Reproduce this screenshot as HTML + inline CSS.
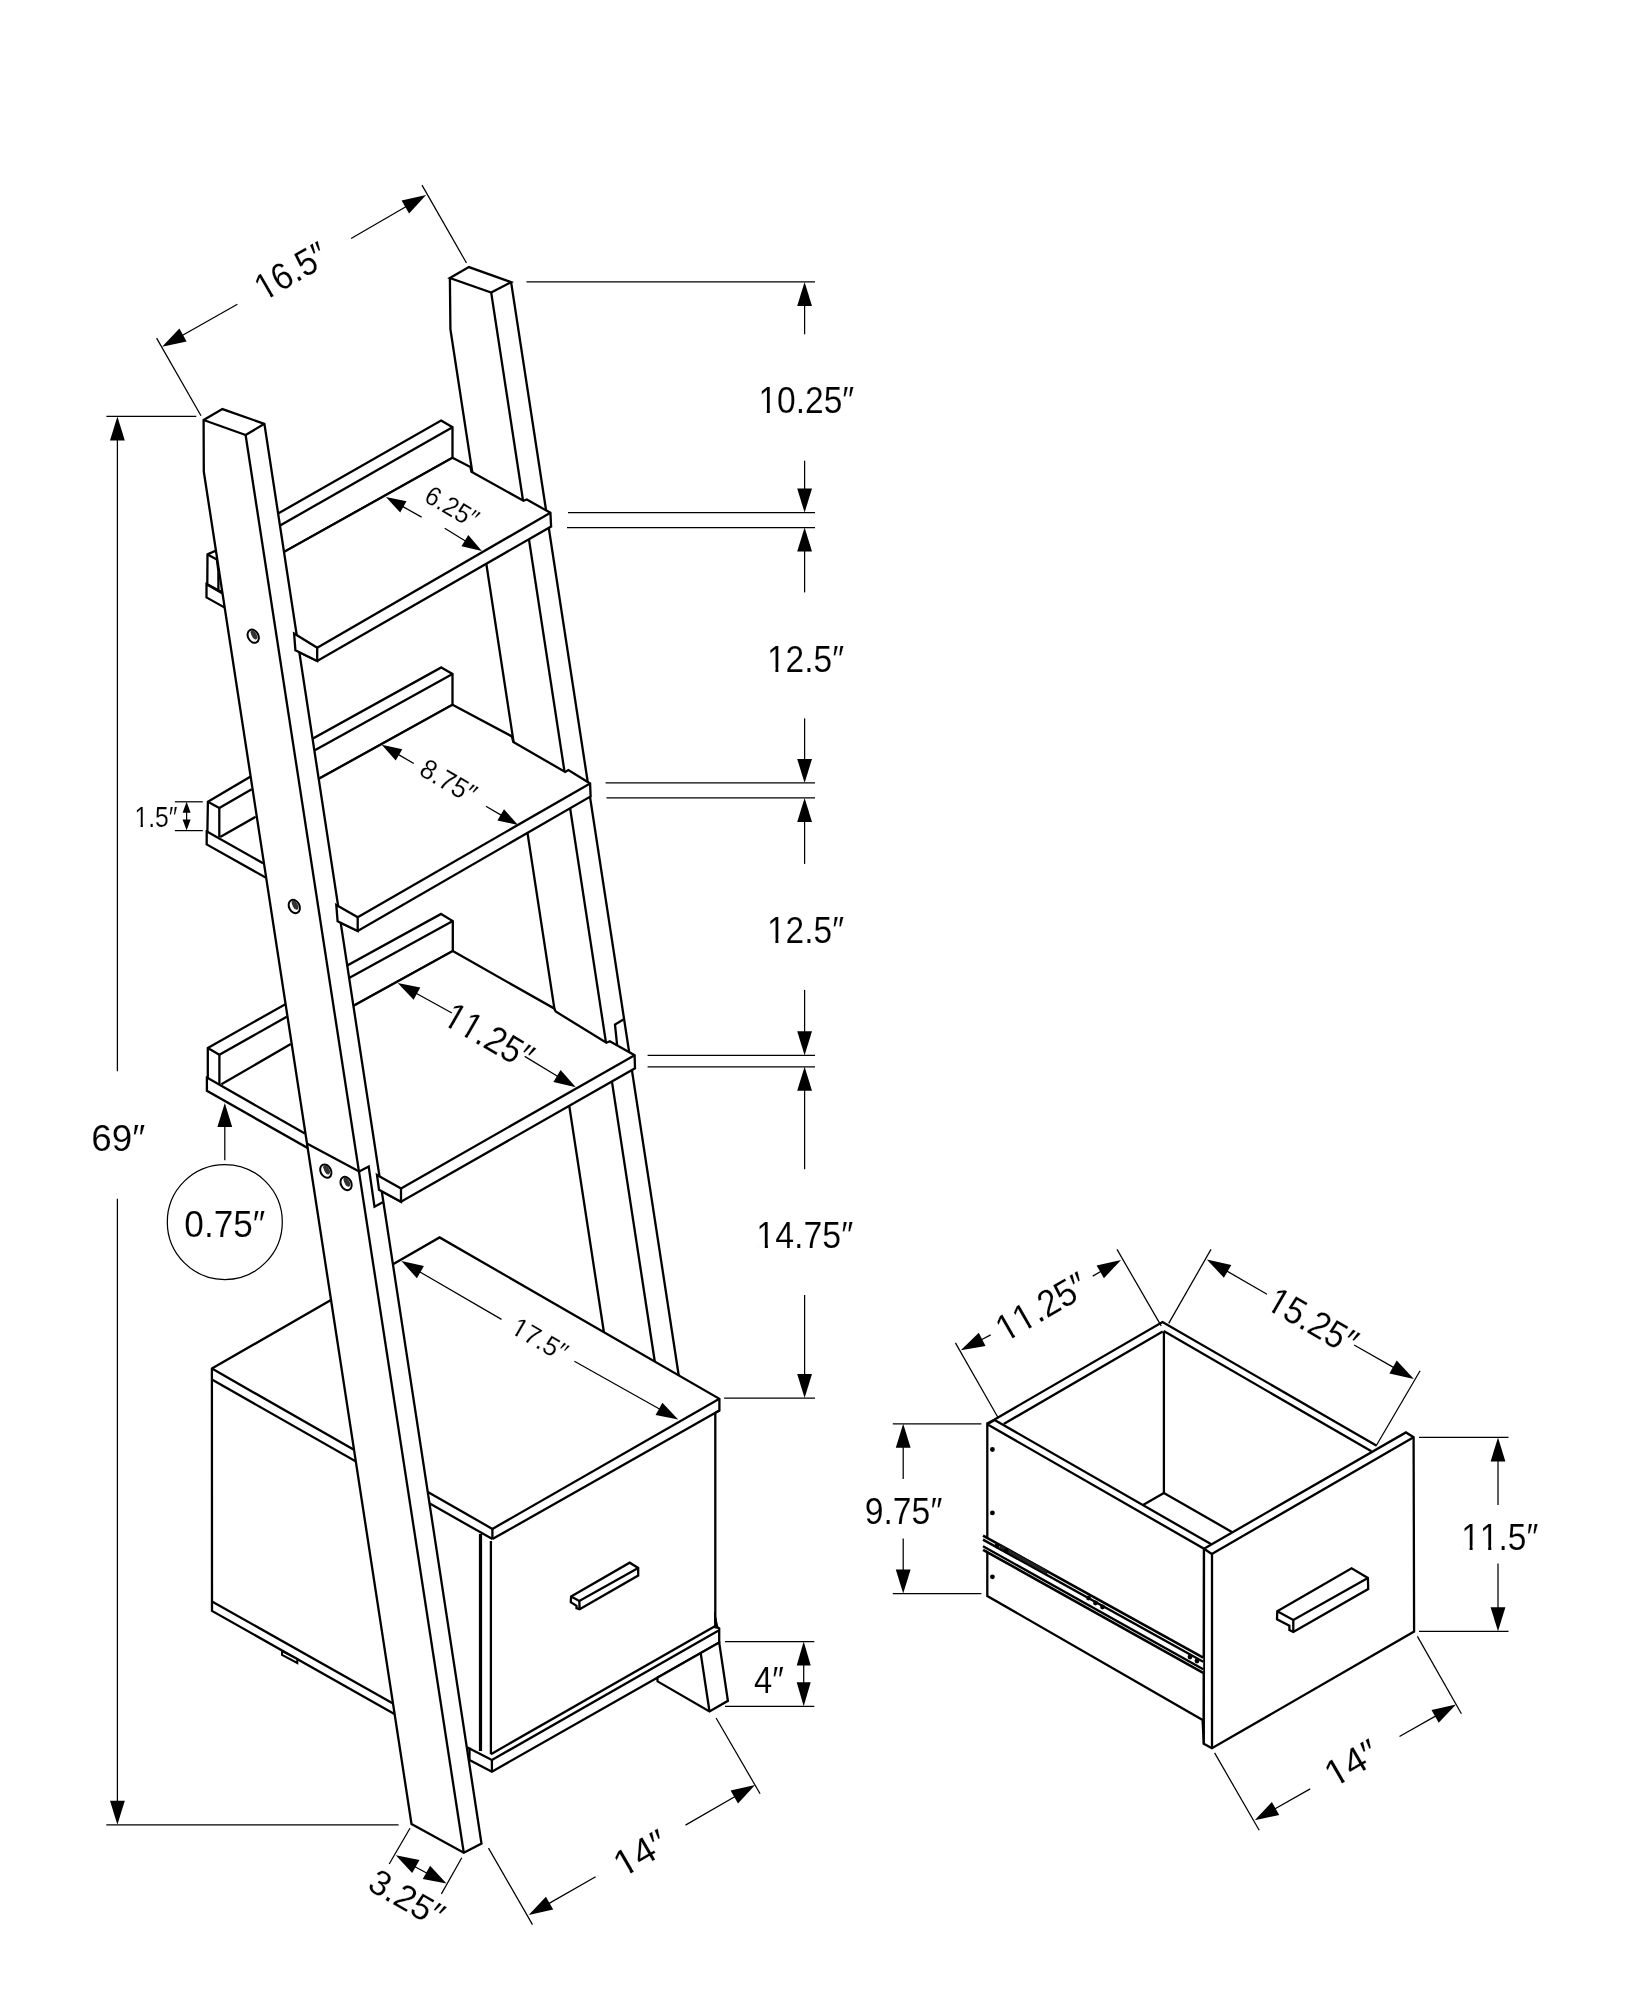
<!DOCTYPE html>
<html><head><meta charset="utf-8"><style>
html,body{margin:0;padding:0;background:#fff;}
svg{display:block;}
text{font-family:"Liberation Sans",sans-serif;font-kerning:none;font-feature-settings:"kern" 0;fill:#000;stroke:#fff;stroke-width:0.15px;}
svg{will-change:transform;}
</style></head><body>
<svg width="1647" height="2000" viewBox="0 0 1647 2000" stroke="#000" stroke-linejoin="miter" stroke-linecap="butt">
<rect width="1647" height="2000" fill="#fff" stroke="none"/>
<line x1="526.5" y1="281.9" x2="815" y2="281.9" stroke-width="1.25"/>
<line x1="804.6" y1="334.3" x2="804.6" y2="303.9" stroke-width="1.25"/>
<polygon points="804.6,281.9 812,305.9 797.2,305.9" fill="#000" stroke="none"/>
<line x1="804.6" y1="460.7" x2="804.6" y2="490.6" stroke-width="1.25"/>
<polygon points="804.6,512.6 797.2,488.6 812,488.6" fill="#000" stroke="none"/>
<line x1="568" y1="512.6" x2="815" y2="512.6" stroke-width="1.25"/>
<line x1="567" y1="527.6" x2="815" y2="527.6" stroke-width="1.25"/>
<text x="806.3" y="413.2" font-size="37.8" text-anchor="middle" textLength="95.8" lengthAdjust="spacingAndGlyphs">10.25″</text>
<g fill="#fff" stroke="none"><rect x="760.4" y="409.2" width="6.4" height="5.6"/><rect x="769.8" y="409.2" width="6.3" height="5.6"/></g>
<line x1="804.6" y1="592.4" x2="804.6" y2="549.6" stroke-width="1.25"/>
<polygon points="804.6,527.6 812,551.6 797.2,551.6" fill="#000" stroke="none"/>
<line x1="804.6" y1="718.4" x2="804.6" y2="760.9" stroke-width="1.25"/>
<polygon points="804.6,782.9 797.2,758.9 812,758.9" fill="#000" stroke="none"/>
<line x1="605.6" y1="782.9" x2="815" y2="782.9" stroke-width="1.25"/>
<line x1="606.5" y1="797.9" x2="815" y2="797.9" stroke-width="1.25"/>
<text x="805.5" y="671.9" font-size="37.5" text-anchor="middle" textLength="77" lengthAdjust="spacingAndGlyphs">12.5″</text>
<g fill="#fff" stroke="none"><rect x="769" y="667.9" width="6.4" height="5.6"/><rect x="778.4" y="667.9" width="6.2" height="5.6"/></g>
<line x1="804.6" y1="863.9" x2="804.6" y2="819.9" stroke-width="1.25"/>
<polygon points="804.6,797.9 812,821.9 797.2,821.9" fill="#000" stroke="none"/>
<line x1="804.6" y1="989.9" x2="804.6" y2="1033.3" stroke-width="1.25"/>
<polygon points="804.6,1055.3 797.2,1031.3 812,1031.3" fill="#000" stroke="none"/>
<line x1="647.6" y1="1055.3" x2="815" y2="1055.3" stroke-width="1.25"/>
<line x1="647.6" y1="1066.8" x2="815" y2="1066.8" stroke-width="1.25"/>
<text x="805.5" y="943.1" font-size="37.5" text-anchor="middle" textLength="77" lengthAdjust="spacingAndGlyphs">12.5″</text>
<g fill="#fff" stroke="none"><rect x="769" y="939.1" width="6.4" height="5.6"/><rect x="778.4" y="939.1" width="6.2" height="5.6"/></g>
<line x1="804.6" y1="1169.2" x2="804.6" y2="1088.8" stroke-width="1.25"/>
<polygon points="804.6,1066.8 812,1090.8 797.2,1090.8" fill="#000" stroke="none"/>
<line x1="804.6" y1="1295" x2="804.6" y2="1376" stroke-width="1.25"/>
<polygon points="804.6,1398 797.2,1374 812,1374" fill="#000" stroke="none"/>
<line x1="724.1" y1="1398" x2="815" y2="1398" stroke-width="1.25"/>
<text x="804.8" y="1248.4" font-size="37.5" text-anchor="middle" textLength="96.9" lengthAdjust="spacingAndGlyphs">14.75″</text>
<g fill="#fff" stroke="none"><rect x="758.3" y="1244.4" width="6.5" height="5.6"/><rect x="767.9" y="1244.4" width="6.3" height="5.6"/></g>
<line x1="725" y1="1641.5" x2="814.3" y2="1641.5" stroke-width="1.25"/>
<line x1="725" y1="1706.3" x2="814.3" y2="1706.3" stroke-width="1.25"/>
<line x1="803.7" y1="1660" x2="803.7" y2="1688" stroke-width="1.25"/>
<polygon points="803.7,1641.5 810.7,1665.5 796.7,1665.5" fill="#000" stroke="none"/>
<polygon points="803.7,1706.3 796.7,1682.3 810.7,1682.3" fill="#000" stroke="none"/>
<text x="769" y="1692.8" font-size="37.5" text-anchor="middle" textLength="29.8" lengthAdjust="spacingAndGlyphs">4″</text>
<line x1="106.4" y1="416.4" x2="196.3" y2="416.4" stroke-width="1.25"/>
<line x1="117.4" y1="1071.2" x2="117.4" y2="438.4" stroke-width="1.25"/>
<polygon points="117.4,416.4 124.8,440.4 110,440.4" fill="#000" stroke="none"/>
<line x1="117.4" y1="1198.7" x2="117.4" y2="1802.8" stroke-width="1.25"/>
<polygon points="117.4,1824.8 110,1800.8 124.8,1800.8" fill="#000" stroke="none"/>
<line x1="106.3" y1="1824.8" x2="398.6" y2="1824.8" stroke-width="1.25"/>
<text x="118.2" y="1151.1" font-size="37.5" text-anchor="middle" textLength="54" lengthAdjust="spacingAndGlyphs">69″</text>
<line x1="422" y1="185.1" x2="466.5" y2="263" stroke-width="1.25"/>
<line x1="156.6" y1="338.1" x2="201" y2="415.8" stroke-width="1.25"/>
<line x1="351.1" y1="238.5" x2="407.1" y2="206" stroke-width="1.25"/>
<polygon points="426.1,195 409.1,213.4 401.6,200.6" fill="#000" stroke="none"/>
<line x1="237.4" y1="304.3" x2="181.3" y2="336" stroke-width="1.25"/>
<polygon points="162.1,346.8 179.4,328.6 186.6,341.4" fill="#000" stroke="none"/>
<text x="291" y="283.9" font-size="37.5" text-anchor="middle" textLength="78" lengthAdjust="spacingAndGlyphs" transform="rotate(-30 291 271)">16.5″</text>
<g fill="#fff" stroke="none" transform="rotate(-30 291 271)"><rect x="254" y="279.9" width="6.5" height="5.6"/><rect x="263.6" y="279.9" width="6.3" height="5.6"/></g>
<line x1="174.9" y1="801.8" x2="202.8" y2="801.8" stroke-width="1.25"/>
<line x1="174.9" y1="830.6" x2="202.8" y2="830.6" stroke-width="1.25"/>
<line x1="186.6" y1="810" x2="186.6" y2="822" stroke-width="1.25"/>
<polygon points="186.6,801.8 190.6,812.8 182.6,812.8" fill="#000" stroke="none"/>
<polygon points="186.6,830.6 182.6,819.6 190.6,819.6" fill="#000" stroke="none"/>
<text x="156" y="827.4" font-size="28.9" text-anchor="middle" textLength="43" lengthAdjust="spacingAndGlyphs">1.5″</text>
<g fill="#fff" stroke="none"><rect x="135.9" y="824.1" width="4.7" height="5"/><rect x="142.9" y="824.1" width="4.6" height="5"/></g>
<line x1="224.8" y1="1160.3" x2="224.8" y2="1124.9" stroke-width="1.25"/>
<polygon points="224.8,1102.9 232.2,1126.9 217.4,1126.9" fill="#000" stroke="none"/>
<circle cx="224.8" cy="1222" r="57.5" fill="none" stroke-width="1.25"/>
<text x="224.8" y="1236.9" font-size="37.5" text-anchor="middle" textLength="81" lengthAdjust="spacingAndGlyphs">0.75″</text>
<polygon points="449.9,278.1 468.9,267.1 511.1,282.2 491.2,292.6" fill="#fff" stroke-width="2.3"/>
<polyline points="449.9,278.1 450.4,329.1 605.7,1344" fill="none" stroke-width="2.3"/>
<line x1="491.2" y1="292.6" x2="657" y2="1376" stroke-width="2.3"/>
<line x1="511.1" y1="282.2" x2="680.8" y2="1389" stroke-width="2.3"/>
<polygon points="441.1,420.6 452.5,427.2 452.5,457.8 252,569.9 252,528.4" fill="#fff" stroke-width="2.3"/>
<line x1="452.5" y1="427.2" x2="252" y2="541.5" stroke-width="2.3"/>
<polygon points="452.5,457.8 470.4,467.1 471.4,471.7 523.5,500.8 526.8,499.5 550.4,512.8 551.1,526.5 317.2,661 295.4,650.2 294.1,633.6 252,609.9 252,569.9" fill="#fff" stroke-width="2.3"/>
<line x1="550.4" y1="512.8" x2="317.2" y2="647.7" stroke-width="2.3"/>
<polygon points="441.3,667.4 452.5,674 452.5,704.8 290,794.8 290,751.2" fill="#fff" stroke-width="2.3"/>
<line x1="452.5" y1="674" x2="290" y2="764" stroke-width="2.3"/>
<polygon points="452.5,704.8 511.9,736.4 513.3,741.9 565.2,772 568.4,770.1 590.1,783.4 590.6,796.4 357.7,931 337.6,921.2 336.3,905.1 290,878.6 290,794.8" fill="#fff" stroke-width="2.3"/>
<line x1="590.1" y1="783.4" x2="357.7" y2="917.2" stroke-width="2.3"/>
<polygon points="441.1,913.9 452.8,921.1 452.8,951.1 330,1018.8 330,975" fill="#fff" stroke-width="2.3"/>
<line x1="452.8" y1="921.1" x2="330" y2="988.6" stroke-width="2.3"/>
<polygon points="452.8,951.1 554.1,1008.4 555.7,1011.5 606.4,1042.8 609.8,1041.3 634.6,1055.3 635,1068.3 401,1201.7 379,1189.7 377,1175 330,1148.1 330,1018.8" fill="#fff" stroke-width="2.3"/>
<line x1="634.6" y1="1055.3" x2="401" y2="1188.4" stroke-width="2.3"/>
<polyline points="617.1,1045 615,1024.6 623.4,1019.4" fill="none" stroke-width="2.3"/>
<polygon points="207.5,554.4 215,551 240,566 240,600 218.4,590.2 207.3,584.2" fill="#fff" stroke-width="2.3"/>
<polyline points="207.5,554.4 216.9,559.5 218.4,571 218.4,590.2" fill="none" stroke-width="2.3"/>
<polygon points="206.5,584.2 221.3,592.7 240,603 240,620 224.7,607.6 206.5,597.4" fill="#fff" stroke-width="2.3"/>
<polygon points="207.9,801.8 249.9,776.9 280,778 280,880 265.5,877.4 206.7,844.4 206.7,831.5 207.4,831.5" fill="#fff" stroke-width="2.3"/>
<line x1="207.9" y1="801.8" x2="219.3" y2="808.1" stroke-width="2.3"/>
<line x1="219.3" y1="808.1" x2="251.7" y2="789.2" stroke-width="2.3"/>
<line x1="219.3" y1="808.1" x2="219.3" y2="837.2" stroke-width="2.3"/>
<line x1="220.2" y1="836.9" x2="255.6" y2="816.8" stroke-width="2.3"/>
<line x1="206.9" y1="831.6" x2="263.1" y2="863.3" stroke-width="2.3"/>
<polygon points="207.8,1048.1 284.4,1004.7 300,1000 320,1150 306.9,1147.6 206.9,1090.8 206.9,1077.5 207.8,1077.5" fill="#fff" stroke-width="2.3"/>
<line x1="207.8" y1="1048.1" x2="219.4" y2="1054.8" stroke-width="2.3"/>
<line x1="219.4" y1="1054.8" x2="286.8" y2="1016.7" stroke-width="2.3"/>
<line x1="219.4" y1="1054.8" x2="219.4" y2="1084.2" stroke-width="2.3"/>
<line x1="221.4" y1="1084.2" x2="290.8" y2="1044.1" stroke-width="2.3"/>
<line x1="206.9" y1="1077.5" x2="304.9" y2="1133.6" stroke-width="2.3"/>
<polygon points="211.9,1368.6 439.6,1237.4 719.4,1398.8 719.4,1410.5 715.3,1412.8 715.3,1626 719.2,1628.5 719.2,1642.5 491.9,1771.7 469.5,1760 469.5,1748.4 394.8,1714.2 212,1610.9 211.9,1379.5" fill="#fff" stroke-width="2.3"/>
<line x1="211.9" y1="1368.6" x2="492.4" y2="1528.9" stroke-width="2.3"/>
<line x1="492.4" y1="1528.9" x2="719.4" y2="1398.8" stroke-width="2.3"/>
<line x1="492.4" y1="1528.9" x2="492.4" y2="1539.1" stroke-width="2.3"/>
<line x1="211.9" y1="1379.5" x2="492.4" y2="1539.1" stroke-width="2.3"/>
<line x1="492.4" y1="1539.1" x2="719.4" y2="1410.5" stroke-width="2.3"/>
<line x1="212" y1="1601.4" x2="394.8" y2="1704.6" stroke-width="2.3"/>
<line x1="480.5" y1="1534" x2="480.5" y2="1751" stroke-width="3.2"/>
<line x1="490.9" y1="1541" x2="490.9" y2="1754.2" stroke-width="2.3"/>
<line x1="490.9" y1="1754.2" x2="715.3" y2="1626" stroke-width="2.3"/>
<polyline points="469.5,1748.4 491.9,1760 718.2,1630.8" fill="none" stroke-width="2.3"/>
<line x1="491.9" y1="1760" x2="491.9" y2="1771.7" stroke-width="2.3"/>
<polygon points="714.7,1612 718,1628 714.7,1628" fill="#000" stroke-width="1"/>
<polygon points="657.3,1677.8 719.2,1642.5 727.9,1700.8 709.5,1711.5 657.6,1681.4" fill="#fff" stroke-width="2.3"/>
<line x1="700.7" y1="1653.2" x2="709.5" y2="1711.5" stroke-width="2.3"/>
<polygon points="282,1651 282,1655 297.3,1663 297.3,1659" fill="#fff" stroke-width="2"/>
<polygon points="571.1,1596.5 629.7,1562.7 638.2,1567.9 638.2,1575.6 579.6,1609.2 576.5,1608.1 576.5,1605.8 570.8,1602.2" fill="#fff" stroke-width="2.3"/>
<polyline points="571.1,1596.5 579.3,1600.9 638.2,1567.9" fill="none" stroke-width="2.3"/>
<line x1="579.3" y1="1600.9" x2="579.6" y2="1609.2" stroke-width="2.3"/>
<polygon points="203.6,420 222.4,409.1 264.4,423.8 481.5,1843.5 463.8,1852.8 411.5,1824 203.8,471.6" fill="#fff" stroke-width="2.3"/>
<line x1="203.6" y1="420" x2="245.6" y2="435" stroke-width="2.3"/>
<line x1="245.6" y1="435" x2="264.4" y2="423.8" stroke-width="2.3"/>
<line x1="245.6" y1="435" x2="463.8" y2="1852.8" stroke-width="2.3"/>
<polygon points="294.1,633.6 317.2,647.7 317.2,661 295.4,650.2" fill="#fff" stroke-width="2.3"/>
<polygon points="336.3,905.1 357.7,917.2 357.7,931 337.6,921.2" fill="#fff" stroke-width="2.3"/>
<polygon points="377,1175 401,1188.4 401,1201.7 379,1189.7" fill="#fff" stroke-width="2.3"/>
<line x1="306.9" y1="1143.6" x2="358.3" y2="1171" stroke-width="2.3"/>
<polyline points="358.2,1171.9 368.7,1166.5 374.5,1206.8 382.7,1202.2" fill="none" stroke-width="2.3"/>
<ellipse cx="253.2" cy="636.2" rx="5.2" ry="7" transform="rotate(-28 253.2 636.2)" fill="#fff" stroke-width="2"/>
<ellipse cx="254.5" cy="635.4000000000001" rx="2.6" ry="5" transform="rotate(-28 253.2 636.2)" fill="#333" stroke="none"/>
<path d="M250.2,633.2 q0.5,5 5,7.5" fill="none" stroke="#fff" stroke-width="1"/>
<ellipse cx="294.3" cy="906.5" rx="5.2" ry="7" transform="rotate(-28 294.3 906.5)" fill="#fff" stroke-width="2"/>
<ellipse cx="295.6" cy="905.7" rx="2.6" ry="5" transform="rotate(-28 294.3 906.5)" fill="#333" stroke="none"/>
<path d="M291.3,903.5 q0.5,5 5,7.5" fill="none" stroke="#fff" stroke-width="1"/>
<ellipse cx="325.8" cy="1171.1" rx="5.2" ry="7" transform="rotate(-28 325.8 1171.1)" fill="#fff" stroke-width="2"/>
<ellipse cx="327.1" cy="1170.3" rx="2.6" ry="5" transform="rotate(-28 325.8 1171.1)" fill="#333" stroke="none"/>
<path d="M322.8,1168.1 q0.5,5 5,7.5" fill="none" stroke="#fff" stroke-width="1"/>
<ellipse cx="346.1" cy="1183.5" rx="5.2" ry="7" transform="rotate(-28 346.1 1183.5)" fill="#fff" stroke-width="2"/>
<ellipse cx="347.40000000000003" cy="1182.7" rx="2.6" ry="5" transform="rotate(-28 346.1 1183.5)" fill="#333" stroke="none"/>
<path d="M343.1,1180.5 q0.5,5 5,7.5" fill="none" stroke="#fff" stroke-width="1"/>
<line x1="421.6" y1="517.1" x2="401.6" y2="505.9" stroke-width="1.25"/>
<polygon points="385.9,497.1 406.5,501.2 400.2,512.5" fill="#000" stroke="none"/>
<line x1="444.7" y1="528.2" x2="466.6" y2="541.7" stroke-width="1.25"/>
<polygon points="481.9,551.1 461.5,546.2 468.3,535.1" fill="#000" stroke="none"/>
<text x="452" y="516.2" font-size="26.8" text-anchor="middle" textLength="57" lengthAdjust="spacingAndGlyphs" transform="rotate(30 452 507)">6.25″</text>
<line x1="413.8" y1="763.5" x2="397.3" y2="753.9" stroke-width="1.25"/>
<polygon points="381.7,744.8 402.3,749.3 395.7,760.5" fill="#000" stroke="none"/>
<line x1="485.9" y1="806.3" x2="502.4" y2="815.9" stroke-width="1.25"/>
<polygon points="518,825 497.4,820.5 504,809.3" fill="#000" stroke="none"/>
<text x="448.5" y="790.6" font-size="27.8" text-anchor="middle" textLength="60" lengthAdjust="spacingAndGlyphs" transform="rotate(30 448.5 781)">8.75″</text>
<line x1="451.9" y1="1013" x2="415.2" y2="992.7" stroke-width="1.25"/>
<polygon points="397.7,983 420.3,987.5 413.6,999.8" fill="#000" stroke="none"/>
<line x1="524.7" y1="1056.4" x2="558.7" y2="1077" stroke-width="1.25"/>
<polygon points="575.8,1087.3 553.4,1081.9 560.6,1069.9" fill="#000" stroke="none"/>
<text x="489" y="1048.9" font-size="37.5" text-anchor="middle" textLength="96" lengthAdjust="spacingAndGlyphs" transform="rotate(30 489 1036)">11.25″</text>
<g fill="#fff" stroke="none" transform="rotate(30 489 1036)"><rect x="443" y="1044.9" width="6.4" height="5.6"/><rect x="452.5" y="1044.9" width="6.3" height="5.6"/><rect x="461.7" y="1044.9" width="6.4" height="5.6"/><rect x="471.1" y="1044.9" width="6.3" height="5.6"/></g>
<line x1="501.5" y1="1319.4" x2="418.7" y2="1271.2" stroke-width="1.25"/>
<polygon points="401.4,1261.1 423.9,1266.1 416.9,1278.2" fill="#000" stroke="none"/>
<line x1="574.4" y1="1361.3" x2="660.8" y2="1409.8" stroke-width="1.25"/>
<polygon points="678.2,1419.6 655.6,1414.9 662.4,1402.7" fill="#000" stroke="none"/>
<text x="539.8" y="1348.6" font-size="26.8" text-anchor="middle" textLength="60" lengthAdjust="spacingAndGlyphs" transform="rotate(30 539.8 1339.4)">17.5″</text>
<g fill="#fff" stroke="none" transform="rotate(30 539.8 1339.4)"><rect x="511.3" y="1345.4" width="5" height="4.8"/><rect x="518.7" y="1345.4" width="4.9" height="4.8"/></g>
<line x1="410" y1="1828.2" x2="389.2" y2="1864" stroke-width="1.25"/>
<line x1="461.8" y1="1857.8" x2="441.4" y2="1893.9" stroke-width="1.25"/>
<line x1="408" y1="1863" x2="434" y2="1877" stroke-width="1.25"/>
<polygon points="395.8,1855.2 419.5,1859.9 412.2,1873" fill="#000" stroke="none"/>
<polygon points="446.5,1883.6 422.8,1878.9 430.1,1865.8" fill="#000" stroke="none"/>
<text x="406.8" y="1910.4" font-size="35.3" text-anchor="middle" textLength="80" lengthAdjust="spacingAndGlyphs" transform="rotate(30 406.8 1898.3)">3.25″</text>
<line x1="488.5" y1="1848.1" x2="532.5" y2="1924.6" stroke-width="1.25"/>
<line x1="716.1" y1="1718" x2="760.1" y2="1793.8" stroke-width="1.25"/>
<line x1="595.6" y1="1876.8" x2="547.8" y2="1904.1" stroke-width="1.25"/>
<polygon points="528.7,1915 545.9,1896.7 553.2,1909.5" fill="#000" stroke="none"/>
<line x1="685.5" y1="1825.1" x2="736" y2="1796" stroke-width="1.25"/>
<polygon points="755.1,1785 738,1803.4 730.6,1790.6" fill="#000" stroke="none"/>
<text x="640.5" y="1866.1" font-size="37.5" text-anchor="middle" textLength="56" lengthAdjust="spacingAndGlyphs" transform="rotate(-30 640.5 1853.2)">14″</text>
<g fill="#fff" stroke="none" transform="rotate(-30 640.5 1853.2)"><rect x="614.7" y="1862.1" width="7.3" height="5.6"/><rect x="625.5" y="1862.1" width="7.1" height="5.6"/></g>
<polygon points="987.3,1424.3 1204,1548.7 1203.8,1743.8 1202.6,1720 987.3,1596" fill="#fff" stroke-width="2.3"/>
<line x1="994.6" y1="1420" x2="1211.3" y2="1544.3" stroke-width="2.3"/>
<polyline points="987.3,1423.4 994.6,1419.4 1162.5,1322.1 1376.7,1445.7" fill="none" stroke-width="2.3"/>
<line x1="1003.7" y1="1424" x2="1162.7" y2="1331.6" stroke-width="2.3"/>
<line x1="1163.7" y1="1331.1" x2="1371.4" y2="1451.3" stroke-width="2.3"/>
<line x1="987.3" y1="1424.3" x2="994.6" y2="1420" stroke-width="2.3"/>
<line x1="1163.9" y1="1331.6" x2="1163.9" y2="1493" stroke-width="2.3"/>
<line x1="1163.9" y1="1493" x2="1143" y2="1505.1" stroke-width="2.3"/>
<line x1="1163.9" y1="1493" x2="1232.7" y2="1532.4" stroke-width="2.3"/>
<polygon points="1204,1548.7 1405.9,1432.4 1413.6,1437.2 1414.1,1631.5 1211.9,1748.3 1203.8,1743.8" fill="#fff" stroke-width="2.3"/>
<line x1="1211.8" y1="1554" x2="1413.6" y2="1437.2" stroke-width="2.3"/>
<line x1="1204" y1="1548.7" x2="1211.8" y2="1554" stroke-width="2.3"/>
<line x1="1212" y1="1554" x2="1212" y2="1748.3" stroke-width="2.3"/>
<polygon points="984,1535.7 1203.2,1657.6 1203.2,1672.8 984,1549.1" fill="#fff" stroke-width="0.1"/>
<line x1="983" y1="1535.7" x2="1203.2" y2="1657.6" stroke-width="2.6"/>
<line x1="983" y1="1539.6" x2="1203.2" y2="1661.8" stroke-width="2.4"/>
<line x1="983" y1="1546.2" x2="1203.2" y2="1669.2" stroke-width="2.4"/>
<line x1="983" y1="1549.8" x2="1203.2" y2="1672.8" stroke-width="2.6"/>
<polygon points="1000,1544.4 1047,1570.3 1047,1574.7 1000,1548.6" fill="#222" stroke-width="0.5"/>
<circle cx="997" cy="1546" r="2.4" fill="#000" stroke="none"/>
<circle cx="1006" cy="1551" r="2.4" fill="#000" stroke="none"/>
<circle cx="1088.5" cy="1598" r="2.4" fill="#000" stroke="none"/>
<circle cx="1095.5" cy="1603" r="2.4" fill="#000" stroke="none"/>
<circle cx="1102.5" cy="1607" r="2.4" fill="#000" stroke="none"/>
<circle cx="1190" cy="1657" r="2.4" fill="#000" stroke="none"/>
<circle cx="1197" cy="1661" r="2.4" fill="#000" stroke="none"/>
<circle cx="992.4" cy="1449.5" r="2.4" fill="#000" stroke="none"/>
<circle cx="992.4" cy="1512.9" r="2.4" fill="#000" stroke="none"/>
<circle cx="992.4" cy="1576.8" r="2.4" fill="#000" stroke="none"/>
<polygon points="1277.3,1611.3 1351.6,1568.3 1367.9,1577.9 1368.2,1589 1293.3,1632 1289.4,1630.1 1289.4,1625.7 1277,1619.3" fill="#fff" stroke-width="2.3"/>
<polyline points="1277.3,1611.3 1293.3,1619.9 1367.9,1577.9" fill="none" stroke-width="2.3"/>
<line x1="1293.3" y1="1619.9" x2="1293.3" y2="1632" stroke-width="2.3"/>
<line x1="892.8" y1="1423.8" x2="981.4" y2="1423.8" stroke-width="1.25"/>
<line x1="892.8" y1="1593.6" x2="981.4" y2="1593.6" stroke-width="1.25"/>
<line x1="903.2" y1="1478.9" x2="903.2" y2="1445.8" stroke-width="1.25"/>
<polygon points="903.2,1423.8 910.6,1447.8 895.8,1447.8" fill="#000" stroke="none"/>
<line x1="903.2" y1="1538.4" x2="903.2" y2="1571.6" stroke-width="1.25"/>
<polygon points="903.2,1593.6 895.8,1569.6 910.6,1569.6" fill="#000" stroke="none"/>
<text x="903.5" y="1524.1" font-size="37.5" text-anchor="middle" textLength="77.7" lengthAdjust="spacingAndGlyphs">9.75″</text>
<line x1="955.4" y1="1342.9" x2="998.4" y2="1418.2" stroke-width="1.25"/>
<line x1="1117" y1="1249.4" x2="1161.2" y2="1325.9" stroke-width="1.25"/>
<line x1="990.7" y1="1334.9" x2="980.4" y2="1340.2" stroke-width="1.25"/>
<polygon points="960.8,1350.2 978.8,1332.7 985.5,1345.9" fill="#000" stroke="none"/>
<line x1="1092.7" y1="1276.1" x2="1102" y2="1270.8" stroke-width="1.25"/>
<polygon points="1121.1,1259.9 1103.9,1278.2 1096.6,1265.4" fill="#000" stroke="none"/>
<text x="1041.5" y="1319.7" font-size="37.5" text-anchor="middle" textLength="99" lengthAdjust="spacingAndGlyphs" transform="rotate(-30 1041.5 1306.8)">11.25″</text>
<g fill="#fff" stroke="none" transform="rotate(-30 1041.5 1306.8)"><rect x="994" y="1315.7" width="6.7" height="5.6"/><rect x="1003.8" y="1315.7" width="6.5" height="5.6"/><rect x="1013.3" y="1315.7" width="6.7" height="5.6"/><rect x="1023.1" y="1315.7" width="6.5" height="5.6"/></g>
<line x1="1211" y1="1249.4" x2="1168.7" y2="1323.4" stroke-width="1.25"/>
<line x1="1420.1" y1="1370.7" x2="1376.5" y2="1445.3" stroke-width="1.25"/>
<line x1="1267" y1="1294.2" x2="1225.8" y2="1270.4" stroke-width="1.25"/>
<polygon points="1206.8,1259.4 1231.3,1265 1223.9,1277.8" fill="#000" stroke="none"/>
<line x1="1354.1" y1="1345" x2="1394.8" y2="1368.1" stroke-width="1.25"/>
<polygon points="1413.9,1378.9 1389.4,1373.5 1396.7,1360.6" fill="#000" stroke="none"/>
<text x="1312.8" y="1333.9" font-size="37.5" text-anchor="middle" textLength="97" lengthAdjust="spacingAndGlyphs" transform="rotate(30 1312.8 1321)">15.25″</text>
<g fill="#fff" stroke="none" transform="rotate(30 1312.8 1321)"><rect x="1266.3" y="1329.9" width="6.5" height="5.6"/><rect x="1275.9" y="1329.9" width="6.3" height="5.6"/></g>
<line x1="1419" y1="1437.4" x2="1508.5" y2="1437.4" stroke-width="1.25"/>
<line x1="1419" y1="1631.3" x2="1508.5" y2="1631.3" stroke-width="1.25"/>
<line x1="1498" y1="1505.1" x2="1498" y2="1459.4" stroke-width="1.25"/>
<polygon points="1498,1437.4 1505.4,1461.4 1490.6,1461.4" fill="#000" stroke="none"/>
<line x1="1498" y1="1563.6" x2="1498" y2="1609.3" stroke-width="1.25"/>
<polygon points="1498,1631.3 1490.6,1607.3 1505.4,1607.3" fill="#000" stroke="none"/>
<text x="1499.8" y="1549.7" font-size="37.5" text-anchor="middle" textLength="77.2" lengthAdjust="spacingAndGlyphs">11.5″</text>
<g fill="#fff" stroke="none"><rect x="1463.2" y="1545.7" width="6.4" height="5.6"/><rect x="1472.6" y="1545.7" width="6.3" height="5.6"/><rect x="1481.8" y="1545.7" width="6.4" height="5.6"/><rect x="1491.3" y="1545.7" width="6.3" height="5.6"/></g>
<line x1="1214.6" y1="1752.9" x2="1259.2" y2="1830.3" stroke-width="1.25"/>
<line x1="1417.4" y1="1636.4" x2="1461.4" y2="1713.7" stroke-width="1.25"/>
<line x1="1310.2" y1="1788.9" x2="1273.8" y2="1809.5" stroke-width="1.25"/>
<polygon points="1254.7,1820.3 1271.9,1802 1279.2,1814.9" fill="#000" stroke="none"/>
<line x1="1399.5" y1="1736.5" x2="1436.8" y2="1715.4" stroke-width="1.25"/>
<polygon points="1456,1704.6 1438.7,1722.8 1431.5,1710" fill="#000" stroke="none"/>
<text x="1351.5" y="1775.9" font-size="37.5" text-anchor="middle" textLength="56" lengthAdjust="spacingAndGlyphs" transform="rotate(-30 1351.5 1763)">14″</text>
<g fill="#fff" stroke="none" transform="rotate(-30 1351.5 1763)"><rect x="1325.7" y="1771.9" width="7.3" height="5.6"/><rect x="1336.5" y="1771.9" width="7.1" height="5.6"/></g>
</svg>
</body></html>
